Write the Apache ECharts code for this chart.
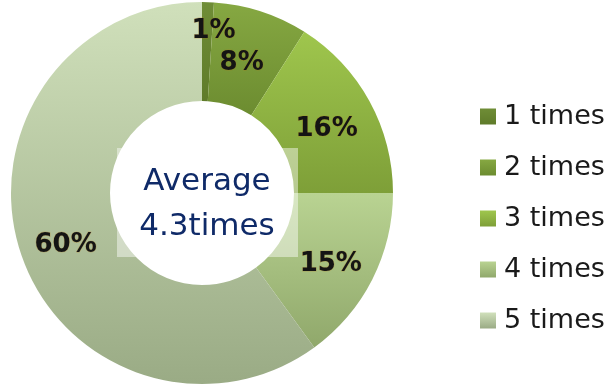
<!DOCTYPE html>
<html>
<head>
<meta charset="utf-8">
<script src="https://cdn.jsdelivr.net/npm/echarts@6/dist/echarts.min.js"></script>
<style>
  html, body { margin: 0; padding: 0; background: #ffffff; }
  #chart { width: 609px; height: 388px; }
</style>
</head>
<body>
<div id="chart"></div>
<script>
// Share of respondents by number of times
const categories = ['1 times', '2 times', '3 times', '4 times', '5 times'];
const shares = [1, 8, 16, 15, 60];
const averageText = ['Average', '4.3times'];

// Top/bottom gradient stops for each slice
const sliceTop = ['#6f8d36', '#86a842', '#9fc64d', '#b9d392', '#d0e0bb'];
const sliceBottom = ['#5f7b2a', '#6c8c30', '#7e9f38', '#90a86b', '#9aab85'];

function grad(i) {
  return new echarts.graphic.LinearGradient(0, 0, 0, 1, [
    { offset: 0, color: sliceTop[i] },
    { offset: 1, color: sliceBottom[i] }
  ]);
}

const chart = echarts.init(document.getElementById('chart'), null, { renderer: 'canvas' });

// per-slice label nudges (the two narrow slices at the top need their own)
const labelNudge = [[7, -17], [-5, 8], [-2, 6], [0, 6], [1, 8]];

const data = categories.map((name, i) => ({
  name: name,
  value: shares[i],
  itemStyle: { color: grad(i) },
  label: { offset: labelNudge[i] }
}));

chart.setOption({
  animation: false,
  backgroundColor: '#ffffff',
  legend: {
    orient: 'vertical',
    left: 480,
    top: 103,
    padding: 0,
    itemWidth: 16,
    itemHeight: 16,
    itemGap: 24,
    icon: 'rect',
    data: categories,
    textStyle: {
      fontFamily: 'DejaVu Sans',
      fontSize: 27,
      color: '#1a1a1a',
      padding: [0, 0, 0, 3]
    }
  },
  series: [{
    type: 'pie',
    center: [202, 193],
    radius: [92, 191],
    startAngle: 90,
    clockwise: true,
    avoidLabelOverlap: false,
    labelLayout: { hideOverlap: false },
    label: {
      show: true,
      position: 'inside',
      formatter: '{c}%',
      fontFamily: 'DejaVu Sans',
      fontWeight: 'bold',
      fontSize: 26,
      color: '#141414',
      textBorderColor: 'rgba(190,120,20,0.35)',
      textBorderWidth: 1
    },
    labelLine: { show: false },
    emphasis: { disabled: true },
    data: data
  }],
  graphic: [
    {
      // translucent text box behind the average
      type: 'rect',
      shape: { x: 117, y: 148, width: 181, height: 109 },
      style: { fill: 'rgba(255,255,255,0.45)' },
      z: 10
    },
    {
      type: 'text',
      x: 207,
      y: 204,
      style: {
        text: averageText.join('\n'),
        fontFamily: 'DejaVu Sans',
        fontSize: 31,
        lineHeight: 45,
        fill: '#0f2a68',
        align: 'center',
        verticalAlign: 'middle'
      },
      z: 11
    }
  ]
});
</script>
</body>
</html>
